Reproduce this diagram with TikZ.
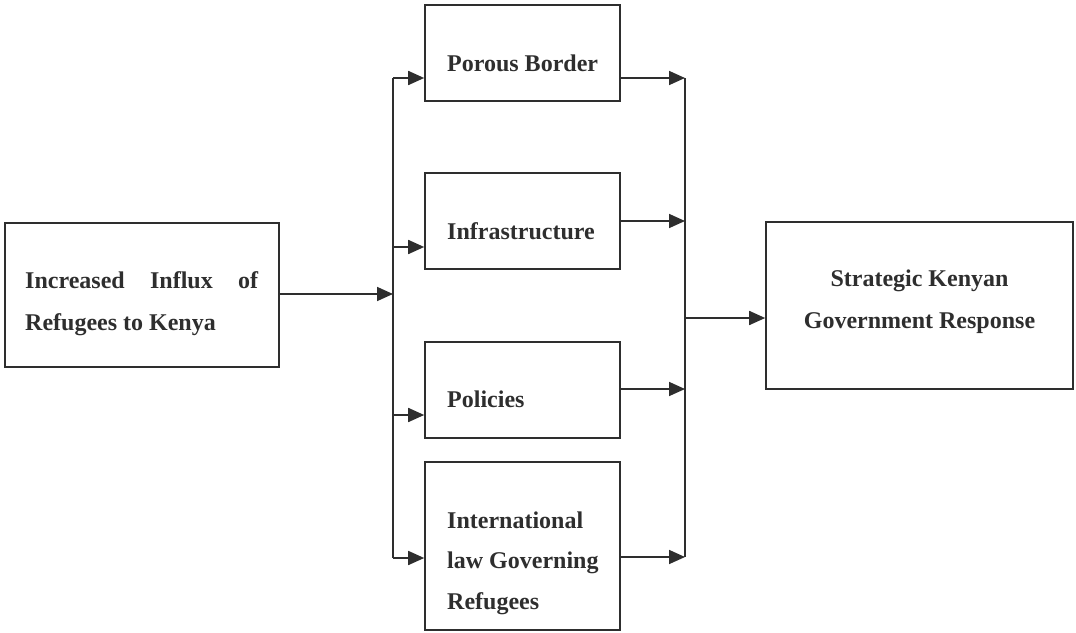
\documentclass[tikz,border=0pt]{standalone}
\usepackage{fontspec}
\setmainfont{Liberation Serif}
\usetikzlibrary{arrows.meta}
\definecolor{ink}{HTML}{2E2E2E}
\begin{document}
\begin{tikzpicture}[x=1pt,y=-1pt,
  box/.style={draw=ink, line width=1.6pt, inner sep=0pt},
  txt/.style={text=ink, inner sep=0pt, font=\bfseries\fontsize{24}{42}\selectfont},
  conn/.style={draw=ink, line width=1.7pt},
  arr/.style={conn, -{Triangle[length=16pt,width=14pt]}}]
\useasboundingbox (0,0) rectangle (1076,632);
% boxes
\node[box, minimum width=274pt, minimum height=144pt] (inc) at (142,295) {};
\node[box, minimum width=195pt, minimum height=96pt] (por) at (522.5,53) {};
\node[box, minimum width=195pt, minimum height=96pt] (inf) at (522.5,221) {};
\node[box, minimum width=195pt, minimum height=96pt] (pol) at (522.5,390) {};
\node[box, minimum width=195pt, minimum height=168pt] (int) at (522.5,546) {};
\node[box, minimum width=307pt, minimum height=167pt] (str) at (919.5,305.5) {};
% texts (base anchor = baseline of last line)
\node[txt, anchor=base west, align=left] (incT) at (25,330)
  {\makebox[233pt][s]{Increased Influx of}\\Refugees to Kenya};
\node[txt, anchor=base west] (porT) at (447,71) {Porous Border};
\node[txt, anchor=base west] (infT) at (447,239) {Infrastructure};
\node[txt, anchor=base west] (polT) at (447,407) {Policies};
\node[txt, anchor=base west, align=left, font=\bfseries\fontsize{24}{40.5}\selectfont] (intT) at (447,609)
  {International\\law Governing\\Refugees};
\node[txt, anchor=base, align=center] (strT) at (919.5,328)
  {Strategic Kenyan\\Government Response};
% junction coordinates
\coordinate (lt) at (393,78);
\coordinate (lb) at (393,558);
\coordinate (rt) at (685,78);
\coordinate (rb) at (685,557);
\coordinate (lin) at (393,294);
\coordinate (l2) at (393,247);
\coordinate (l3) at (393,415);
\coordinate (r2) at (685,221);
\coordinate (r3) at (685,389);
\coordinate (rout) at (685,318);
% left bus
\draw[conn] (lt) -- (lb);
\draw[arr] (inc.east |- lin) -- (lin);
\draw[arr] (lt) -- (lt -| por.west);
\draw[arr] (l2) -- (l2 -| inf.west);
\draw[arr] (l3) -- (l3 -| pol.west);
\draw[arr] (lb) -- (lb -| int.west);
% right bus
\draw[conn] (rt) -- (rb);
\draw[arr] (por.east |- rt) -- (rt);
\draw[arr] (inf.east |- r2) -- (r2);
\draw[arr] (pol.east |- r3) -- (r3);
\draw[arr] (int.east |- rb) -- (rb);
\draw[arr] (rout) -- (rout -| str.west);
\end{tikzpicture}
\end{document}
